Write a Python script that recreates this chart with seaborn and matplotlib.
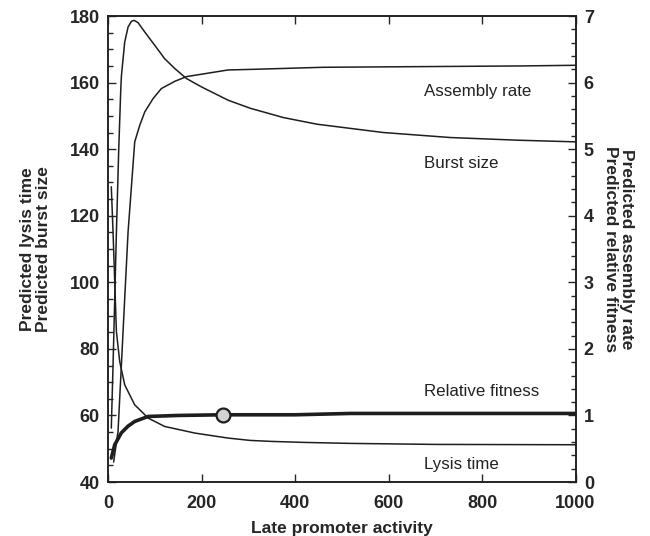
import numpy as np
import matplotlib
matplotlib.use("Agg")
import matplotlib.pyplot as plt
import seaborn as sns
from matplotlib.ticker import MultipleLocator

# values
burst_x = [7, 10.7, 14.3, 17.9, 22.9, 27, 28.6, 35.7, 42.9, 50, 55.7, 64.3, 78.6, 100, 121,
           143, 168, 200, 257, 304, 375, 447, 589, 732, 875, 1000]
burst_y = [56.2, 75, 95, 115, 140, 157, 162, 172.2, 176.7, 178.4, 178.7, 178, 175.2, 171.2, 167.2,
           164.2, 161.2, 158.7, 154.7, 152.3, 149.5, 147.5, 145, 143.5, 142.7, 142.2]

lysis_x = [7, 10.7, 14.3, 17.9, 25, 35.7, 57, 86, 121, 186, 257, 304, 350, 420, 520, 700, 1000]
lysis_y = [128.7, 115.2, 100.2, 85.2, 76.2, 69.2, 63.2, 59.2, 56.7, 54.7, 53.2, 52.5, 52.2,
           51.9, 51.6, 51.3, 51.2]

assembly_x = [12, 21.4, 28.6, 35.7, 42.9, 57.1, 67.9, 78.6, 96.4, 114, 143, 168, 257, 314,
              460, 880, 1000]
assembly_y = [0.3, 0.76, 1.76, 2.76, 3.76, 5.11, 5.36, 5.56, 5.76, 5.91, 6.02, 6.09, 6.19,
              6.2, 6.23, 6.25, 6.26]

fitness_x = [7, 14.3, 28.6, 42.9, 57.1, 85.7, 150, 246, 400, 518, 1000]
fitness_y = [0.36, 0.56, 0.74, 0.84, 0.91, 0.985, 1.0, 1.01, 1.01, 1.03, 1.03]

optimum_x = [246]
optimum_y = [1.01]

labels = {"Assembly rate": (676, 157.3), "Burst size": (676, 135.8),
          "Relative fitness": (676, 67.2), "Lysis time": (676, 45.2)}

sns.set_style("ticks")
plt.rcParams["font.family"] = ["Liberation Sans", "DejaVu Sans"]

ink = "#1e1e1e"
fig = plt.figure(figsize=(6.5, 5.36), dpi=100)
ax = fig.add_axes([0.1662, 0.1007, 0.7192, 0.8694])
ax2 = ax.twinx()

sns.lineplot(x=burst_x, y=burst_y, ax=ax, color=ink, lw=1.1)
sns.lineplot(x=lysis_x, y=lysis_y, ax=ax, color=ink, lw=1.1)
sns.lineplot(x=assembly_x, y=assembly_y, ax=ax2, color=ink, lw=1.1)
sns.lineplot(x=fitness_x, y=fitness_y, ax=ax2, color=ink, lw=2.6)
sns.scatterplot(x=optimum_x, y=optimum_y, ax=ax2, s=100, color="#d3d3d3",
                edgecolor=ink, linewidth=1.6, zorder=5)

ax.set_xlim(0, 1000)
ax.set_ylim(40, 180)
ax2.set_ylim(0, 7)

ax.xaxis.set_major_locator(MultipleLocator(200))
ax.yaxis.set_major_locator(MultipleLocator(20))
ax.yaxis.set_minor_locator(MultipleLocator(5))
ax2.yaxis.set_major_locator(MultipleLocator(1))
ax2.yaxis.set_minor_locator(MultipleLocator(0.2))

ax.tick_params(axis="x", direction="in", top=True, length=6, width=1, labelsize=13, pad=9)
ax.tick_params(axis="y", which="major", direction="in", length=6, width=1, labelsize=13, pad=6)
ax.tick_params(axis="y", which="minor", direction="in", length=3.5, width=1)
ax2.tick_params(axis="y", which="major", direction="in", length=6, width=1, labelsize=13, pad=6)
ax2.tick_params(axis="y", which="minor", direction="in", length=3.5, width=1)
for a in (ax, ax2):
    for t in a.get_xticklabels() + a.get_yticklabels():
        t.set_fontweight("bold")
    for s in a.spines.values():
        s.set_visible(True)
        s.set_linewidth(1.1)
        s.set_color(ink)

ax.set_xlabel("Late promoter activity", fontsize=12.5, fontweight="bold", labelpad=7)
ax.set_ylabel("Predicted lysis time\nPredicted burst size", fontsize=12.5,
              fontweight="bold", labelpad=13, linespacing=1.1)
ax2.set_ylabel("Predicted assembly rate\nPredicted relative fitness", fontsize=12.5,
               fontweight="bold", rotation=270, labelpad=29, linespacing=1.1)

for txt, (lx, ly) in labels.items():
    ax.text(lx, ly, txt, ha="left", va="center", fontsize=12.2, color="#222222")

fig.savefig("out.png", dpi=100)
